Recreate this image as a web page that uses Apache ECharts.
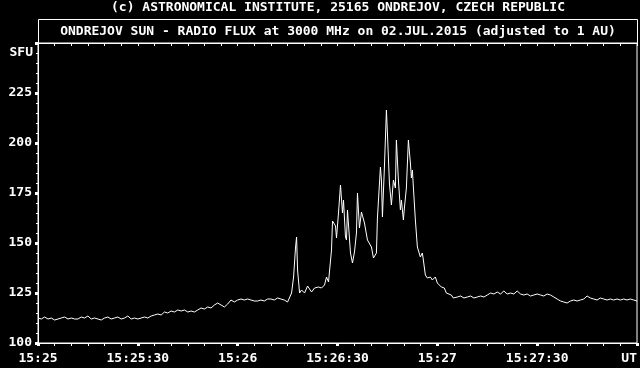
<!DOCTYPE html>
<html><head><meta charset="utf-8">
<script src="https://cdn.jsdelivr.net/npm/echarts@6/dist/echarts.min.js"></script>
<style>html,body{margin:0;padding:0;background:#000}#c{width:640px;height:368px}</style>
</head><body><div id="c"></div>
<script>
const header = "(c) ASTRONOMICAL INSTITUTE, 25165 ONDREJOV, CZECH REPUBLIC";
const title = "ONDREJOV SUN - RADIO FLUX at 3000 MHz on 02.JUL.2015 (adjusted to 1 AU)";
const yUnit = "SFU";
const xUnit = "UT";
// seconds after 15:25:00 UT
const baseTimes = [0,1,2,3,4,5,6,7,8,9,10,11,12,13,14,15,16,17,18,19,20,21,22,23,24,25,26,27,28,29,30,31,32,33,34,35,36,37,38,39,40,41,42,43,44,45,46,47,48,49,50,51,52,53,54,55,56,57,58,59,60,61,62,63,64,65,66,67,68,69,70,71,72,73,74,75];
const baseFlux = [112.5,112,113,112,112.5,111.5,112,112.5,113,112,
112.5,112,112,113,112.5,113.5,112,112.5,112,111.5,
112.5,113,112,112.5,113,112,112.5,113.5,112,112.5,
112,112.5,113,112.5,113.5,
114,114.5,114,115.5,115,116,115.5,116.5,116,116.5,115.5,116,115.5,116.5,117.5,117,118,117.5,119,120,119,118,119.5,121.5,120.5,121.5,122,121.5,122,121.5,121,121,121.5,121,122,122,121.5,122.5,122,121.5,120.5];
const burstTimes = [76.2,76.8,77.4,77.7,78.0,78.6,79.2,80.1,81.0,82.2,83.1,84.3,85.2,86.1,86.7,87.3,88.2,88.5,89.4,89.7,90.3,90.9,91.5,91.8,92.4,92.7,93.0,93.3,93.9,94.5,95.1,95.7,96.0,96.6,97.2,98.1,99.0,99.6,100.2,100.8,101.7,102.0,102.9,103.2,103.5,104.1,104.7,105.0,105.6,106.2,106.8,107.4,107.7,108.3,108.9,109.2,109.8,110.1,110.7,111.3,111.9,112.2,112.5,112.8,113.4,114.0,114.9,115.5,115.8,116.4,117.0,117.9,118.5,119.4,120.0,121.2,122.1,122.7,124.2,124.8];
const burstFlux = [125,133,148,153,136.5,125,126.5,125,128.5,125.5,127.5,128,127.5,129,133,130.5,146.5,161,158.5,152.5,165,179,165,171.5,153,151.5,166.5,166.5,145,140,145.5,155,175,157.5,165.5,160,151.5,150.5,148,142.5,145,162.5,188,181.5,163,188,216.5,205,180,169,181.5,177.5,201.5,181.5,166.5,171.5,161.5,167.5,177.5,201.5,190,182.5,186.5,178,161.5,148,143,145,141.5,134,132.5,133,131.5,133,130,128,127.5,125,124,122.5];
const tailTimes = [126,127,128,129,130,131,132,133,134,135,136,137,138,139,140,141,142,143,144,145,146,147,148,149,150,151,152,153,154,155,156,157,158,159,160,161,162,163,164,165,166,167,168,169,170,171,172,173,174,175,176,177,178,179,180];
const tailFlux = [123,123.5,122.5,123,123.5,122.5,123,123.5,123,124,125,124.5,125.5,124.5,126,124.5,125,124.5,126,124.5,124,124.5,123.5,124,124.5,124,123.5,124.5,124,123,122,121,120.5,120,121,121.5,121,121.5,122,123.5,122.5,122,121.5,122.5,122,121.5,122,121.5,122,121.5,122,121.5,122,121.5,121];
const yTicks = [100,125,150,175,200,225];

const times = baseTimes.concat(burstTimes, tailTimes);
const flux = baseFlux.concat(burstFlux, tailFlux);
const series = times.map((t,i)=>[t, flux[i]]);

const FONT = "DejaVu Sans Mono";
function fmtTime(v){
  if (v >= 180) return xUnit;
  const m = 25 + Math.floor(v/60), s = v % 60;
  return "15:" + m + (s ? ":" + String(s).padStart(2,"0") : "");
}
const chart = echarts.init(document.getElementById('c'), null, {renderer:'canvas'});
chart.setOption({
  backgroundColor:'#000',
  animation:false,
  grid:{left:38,right:3,top:43,bottom:25,show:true,borderColor:'#fff',borderWidth:1,backgroundColor:'transparent'},
  graphic:[
    {type:'text',x:338,y:8,style:{text:header,fill:'#fff',font:'bold 13px "'+FONT+'"',align:'center',verticalAlign:'middle'}},
    {type:'rect',shape:{x:38.5,y:19.5,width:599,height:24},style:{fill:'none',stroke:'#fff',lineWidth:1}},
    {type:'text',x:338,y:32,style:{text:title,fill:'#fff',font:'bold 13px "'+FONT+'"',align:'center',verticalAlign:'middle'}},
    {type:'text',x:33,y:53,style:{text:yUnit,fill:'#fff',font:'bold 13px "'+FONT+'"',align:'right',verticalAlign:'middle'}}
  ],
  xAxis:[{
    type:'value',min:0,max:180,interval:30,
    axisLine:{show:true,lineStyle:{color:'#fff',width:1}},
    axisTick:{show:true,length:3,lineStyle:{color:'#fff',width:3}},
    minorTick:{show:true,splitNumber:6,length:3,lineStyle:{color:'#fff',width:1}},
    splitLine:{show:false},
    axisLabel:{color:'#fff',fontFamily:FONT,fontWeight:'bold',fontSize:13,margin:9,formatter:fmtTime,alignMaxLabel:'right'}
  },{
    type:'value',min:0,max:180,interval:30,position:'top',
    axisLine:{show:true,lineStyle:{color:'#fff'}},
    axisTick:{show:true,inside:true,length:3,lineStyle:{color:'#fff',width:1}},
    minorTick:{show:true,splitNumber:6,length:3,lineStyle:{color:'#fff',width:1}},
    axisLabel:{show:false},splitLine:{show:false}
  }],
  yAxis:{
    type:'value',min:100,max:250,interval:25,
    axisLine:{show:true,lineStyle:{color:'#fff',width:1}},
    axisTick:{show:true,length:3,lineStyle:{color:'#fff',width:3}},
    minorTick:{show:true,splitNumber:5,length:2,lineStyle:{color:'#fff',width:1}},
    splitLine:{show:false},
    axisLabel:{color:'#fff',fontFamily:FONT,fontWeight:'bold',fontSize:13,margin:6,
      formatter:v=>yTicks.indexOf(v)>=0?String(v):''}
  },
  series:[{type:'line',xAxisIndex:0,data:series,showSymbol:false,symbol:'none',
    lineStyle:{color:'#fff',width:1},silent:true}]
});
</script></body></html>
